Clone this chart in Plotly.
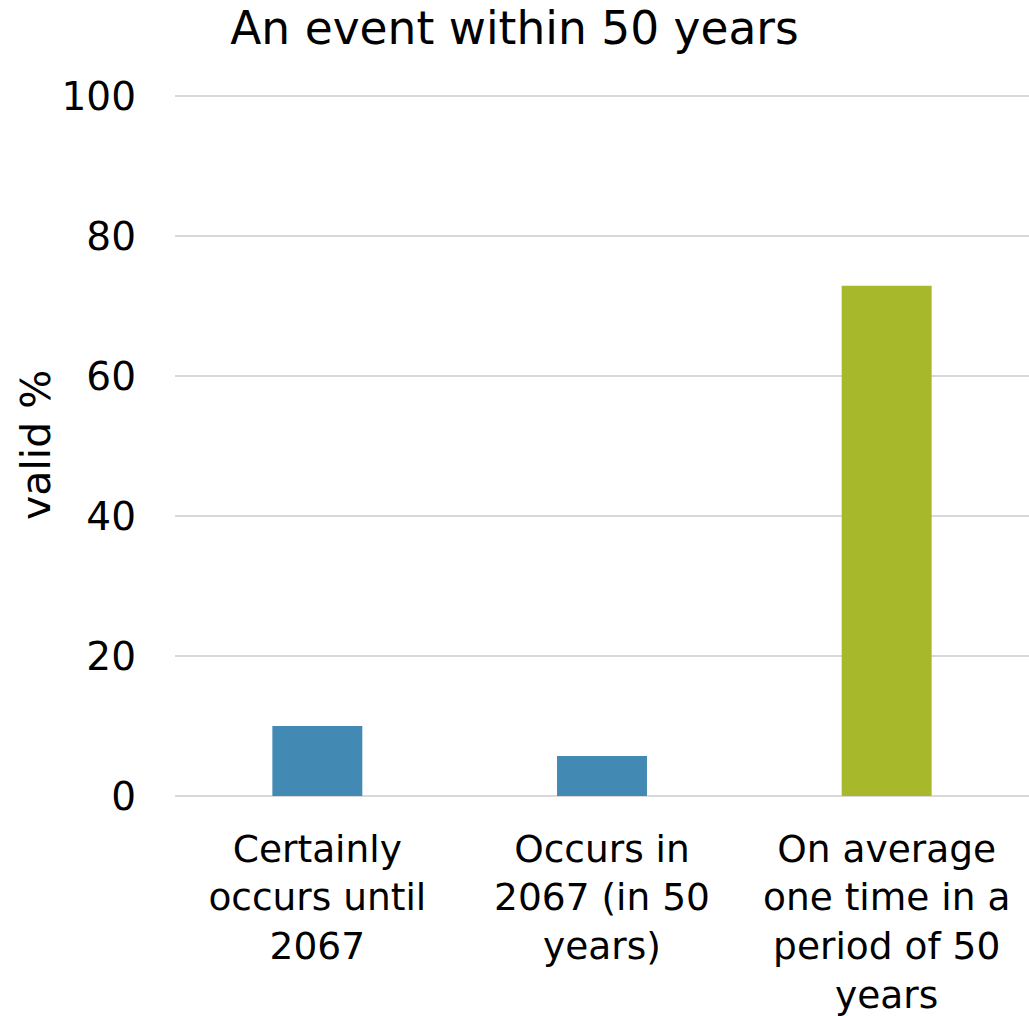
import plotly.graph_objects as go

# Survey answers: how "an event within 50 years" is interpreted
categories = [
    "Certainly<br>occurs until<br>2067",
    "Occurs in<br>2067 (in 50<br>years)",
    "On average<br>one time in a<br>period of 50<br>years",
]
valid_percent = [10.0, 5.7, 72.9]
bar_colors = ["#428AB3", "#428AB3", "#A7B82B"]
y_ticks = [0, 20, 40, 60, 80, 100]

W, H = 1029, 1016
FONT = "DejaVu Sans"

fig = go.Figure(
    go.Bar(
        x=categories,
        y=valid_percent,
        marker=dict(color=bar_colors, line=dict(width=0)),
        width=0.316,
    )
)

fig.update_layout(
    width=W,
    height=H,
    margin=dict(l=175, r=0, t=94, b=220, autoexpand=False),
    paper_bgcolor="white",
    plot_bgcolor="white",
    showlegend=False,
    font=dict(family=FONT, size=39, color="#000000"),
    title=dict(
        text="An event within 50 years",
        x=0.5,
        xref="container",
        xanchor="center",
        y=1 - 28 / H,
        yref="container",
        yanchor="middle",
        font=dict(family=FONT, size=45.5, color="#000000"),
    ),
    xaxis=dict(
        automargin=False,
        showgrid=False,
        showline=False,
        zeroline=False,
        ticks="",
        ticklabelstandoff=27,
        tickfont=dict(family=FONT, size=37.5),
    ),
    yaxis=dict(
        automargin=False,
        range=[0, 100.3],
        tickvals=y_ticks,
        showgrid=True,
        gridcolor="#D9D9D9",
        gridwidth=1.5,
        zeroline=True,
        zerolinecolor="#D9D9D9",
        zerolinewidth=2,
        showline=False,
        ticks="",
        ticklabelstandoff=38,
        tickfont=dict(family=FONT, size=39),
    ),
    annotations=[
        dict(
            text="valid %",
            textangle=-90,
            xref="paper",
            yref="paper",
            x=-(175 - 36) / (W - 175),
            y=(796 - 445) / 702,
            xanchor="center",
            yanchor="middle",
            showarrow=False,
            font=dict(family=FONT, size=41, color="#000000"),
        )
    ],
)

fig.write_html("out.html")
